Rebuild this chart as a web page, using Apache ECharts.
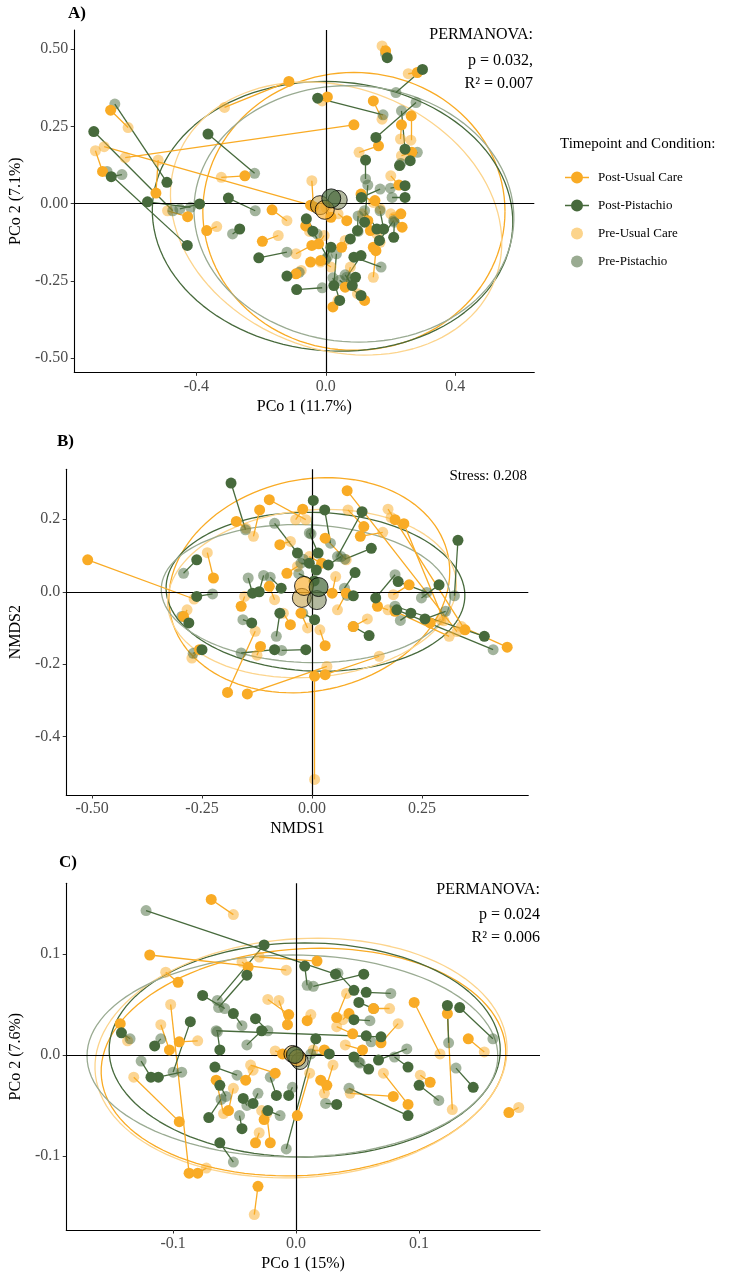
<!DOCTYPE html>
<html><head><meta charset="utf-8">
<script src="https://cdn.jsdelivr.net/npm/echarts@6/dist/echarts.min.js"></script>
<style>html,body{margin:0;padding:0;background:#fff}#c{width:731px;height:1274px}</style>
</head><body><div id="c"></div>
<script>
// ---------- DATA ----------
// pairs: [preX, preY, postX, postY]
const A_usual = [
[-0.611,0.246,-0.665,0.302],[-0.620,0.149,0.087,0.255],[-0.313,0.311,-0.114,0.395],[-0.712,0.171,-0.690,0.104],
[-0.518,0.141,-0.525,0.034],[-0.323,0.085,-0.250,0.090],[-0.685,0.184,-0.047,-0.005],[-0.337,-0.074,-0.368,-0.087],
[-0.489,-0.023,-0.427,-0.042],[-0.120,-0.055,-0.166,-0.020],[-0.147,-0.103,-0.196,-0.122],[-0.076,-0.216,-0.092,-0.227],
[-0.092,-0.162,-0.043,-0.135],[-0.016,-0.189,-0.047,-0.189],[-0.005,-0.103,-0.022,-0.130],[-0.043,0.074,-0.038,-0.010],
[0.174,0.273,0.147,0.332],[-0.011,0.332,0.005,0.345],[0.255,0.420,0.283,0.424],[0.174,0.510,0.185,0.494],
[0.231,0.209,0.234,0.255],[0.263,0.205,0.264,0.284],[0.234,0.155,0.266,0.166],[0.103,0.166,0.163,0.187],
[0.201,0.090,0.226,0.060],[0.147,0.004,0.109,0.031],[0.168,-0.017,0.152,0.010],[0.201,-0.033,0.232,-0.033],
[0.212,-0.044,0.236,-0.076],[0.114,-0.033,0.130,-0.055],[0.158,-0.098,0.138,-0.087],[0.168,-0.125,0.147,-0.141],
[0.147,-0.238,0.155,-0.152],[0.038,-0.033,0.065,-0.055],[0.038,-0.313,0.022,-0.334],[0.098,-0.291,0.120,-0.313],
[0.076,-0.205,0.060,-0.270],[0.060,-0.119,0.049,-0.141],[0.000,-0.012,0.016,-0.044],[0.016,-0.205,-0.016,-0.184],
[-0.050,-0.090,-0.062,-0.072]
];
const A_pist = [
[-0.652,0.322,-0.491,0.069],[-0.473,-0.023,-0.717,0.233],[-0.676,0.104,-0.428,-0.135],[-0.630,0.094,-0.663,0.087],
[-0.418,-0.012,-0.551,0.006],[-0.451,-0.017,-0.390,-0.001],[-0.220,0.098,-0.364,0.225],[-0.218,-0.023,-0.301,0.018],
[-0.288,-0.098,-0.266,-0.082],[-0.120,-0.157,-0.207,-0.175],[-0.082,-0.222,-0.120,-0.234],[-0.011,-0.272,-0.090,-0.278],
[-0.027,-0.098,-0.060,-0.049],[0.005,-0.173,-0.040,-0.089],[0.177,0.287,-0.025,0.341],[0.217,0.359,0.299,0.434],
[0.185,0.485,0.190,0.472],[0.279,0.327,0.155,0.214],[0.234,0.300,0.245,0.176],[0.123,0.080,0.123,0.141],
[0.168,0.047,0.110,0.020],[0.232,0.130,0.228,0.123],[0.200,0.050,0.245,0.058],[0.205,0.020,0.245,0.020],
[0.283,0.166,0.261,0.139],[0.120,-0.023,0.158,-0.082],[0.168,-0.023,0.179,-0.082],[0.100,-0.040,0.098,-0.087],
[0.210,-0.055,0.166,-0.119],[0.212,-0.060,0.210,-0.109],[0.100,-0.090,0.076,-0.114],[0.171,-0.205,0.087,-0.173],
[0.065,-0.238,0.109,-0.168],[0.075,-0.255,0.092,-0.238],[0.043,-0.248,0.109,-0.297],[0.060,-0.230,0.082,-0.265],
[0.033,-0.162,0.025,-0.265],[0.022,-0.240,0.043,-0.313],[0.000,-0.180,0.016,-0.141],[0.130,0.060,0.120,-0.060]
];
const B_usual = [
[-0.268,-0.020,-0.510,0.088],[0.330,-0.110,0.080,0.279],[-0.014,0.199,-0.097,0.254],[-0.133,0.153,-0.119,0.226],
[-0.150,0.175,-0.172,0.194],[-0.037,0.199,-0.021,0.228],[-0.049,0.139,-0.073,0.130],[0.082,0.226,0.118,0.180],
[0.161,0.164,0.110,0.153],[0.173,0.228,0.348,-0.105],[0.180,0.205,0.189,0.199],[0.340,-0.096,0.444,-0.153],
[0.300,-0.080,0.209,0.188],[0.173,-0.050,0.149,-0.040],[0.312,-0.123,0.189,-0.054],[0.185,-0.008,0.221,0.019],
[0.293,-0.077,0.269,-0.086],[0.126,-0.075,0.094,-0.096],[0.058,-0.050,0.078,-0.004],[0.018,-0.105,0.030,-0.149],
[0.006,-0.518,0.006,-0.233],[0.153,-0.178,0.030,-0.229],[-0.129,-0.109,-0.192,-0.278],[0.034,-0.206,-0.147,-0.282],
[-0.284,-0.050,-0.292,-0.068],[-0.273,-0.183,-0.256,-0.160],[-0.238,0.108,-0.224,0.038],[-0.125,-0.175,-0.117,-0.151],
[-0.153,-0.013,-0.161,-0.040],[-0.085,-0.022,-0.097,0.015],[-0.065,-0.059,-0.049,-0.091],[-0.010,-0.100,-0.025,-0.059],
[-0.033,0.070,-0.057,0.051],[0.054,0.042,0.046,-0.004],[0.078,0.088,0.030,0.148],[-0.006,0.097,0.022,0.079]
];
const B_pist = [
[-0.151,0.171,-0.184,0.300],[-0.002,0.160,0.003,0.252],[0.042,0.134,0.029,0.226],[0.058,0.097,0.114,0.221],
[0.075,0.090,0.135,0.120],[-0.085,0.189,-0.033,0.107],[-0.292,0.051,-0.262,0.088],[-0.226,-0.006,-0.262,-0.013],
[-0.296,-0.068,-0.280,-0.086],[-0.270,-0.170,-0.250,-0.160],[-0.145,0.038,-0.135,-0.004],[-0.157,-0.077,-0.137,-0.086],
[-0.161,-0.169,-0.085,-0.160],[-0.069,-0.162,-0.014,-0.160],[-0.081,-0.123,-0.073,-0.059],[-0.006,0.162,0.014,0.107],
[0.066,0.097,0.037,0.074],[0.074,0.010,0.098,0.053],[0.080,-0.010,0.094,-0.011],[0.094,-0.096,0.130,-0.121],
[0.189,0.047,0.145,-0.017],[0.261,-0.002,0.196,0.028],[0.249,-0.017,0.289,0.019],[0.324,-0.011,0.332,0.142],
[0.189,-0.040,0.392,-0.123],[0.412,-0.160,0.193,-0.050],[0.201,-0.079,0.225,-0.059],[0.304,-0.054,0.257,-0.075],
[-0.021,-0.059,0.006,-0.077],[-0.025,0.079,-0.006,0.079],[-0.030,0.050,0.005,0.030],[-0.110,0.045,-0.120,0.000],
[-0.095,0.040,-0.070,0.010],[-0.020,0.090,0.010,0.060]
];
const C_usual = [
[-0.051,0.139,-0.069,0.154],[-0.008,0.084,-0.119,0.099],[-0.044,0.092,-0.039,0.087],[-0.030,0.097,0.017,0.093],
[-0.106,0.082,-0.096,0.072],[-0.137,0.014,-0.143,0.031],[-0.110,0.030,-0.103,0.005],[-0.080,0.014,-0.095,0.013],
[-0.132,-0.022,-0.095,-0.066],[-0.102,0.050,-0.087,-0.117],[-0.073,-0.112,-0.080,-0.117],[-0.034,-0.158,-0.031,-0.130],
[-0.030,-0.077,-0.033,-0.087],[-0.024,-0.058,-0.021,-0.087],[-0.028,-0.055,-0.026,-0.064],[-0.059,-0.058,-0.065,-0.025],
[-0.051,-0.033,-0.055,-0.055],[-0.023,0.055,-0.006,0.040],[-0.014,0.054,-0.007,0.030],[-0.037,-0.010,-0.017,-0.018],
[-0.035,-0.015,-0.041,-0.025],[0.011,-0.018,0.001,-0.060],[0.012,0.040,0.009,0.034],[0.041,0.061,0.033,0.037],
[0.117,0.001,0.096,0.052],[0.127,-0.054,0.123,0.041],[0.153,0.003,0.140,0.016],[0.181,-0.052,0.173,-0.057],
[0.071,-0.018,0.091,-0.049],[0.044,-0.038,0.079,-0.041],[0.101,-0.020,0.109,-0.027],[0.083,0.031,0.069,0.012],
[0.040,0.010,0.054,0.005],[0.033,0.028,0.046,0.021],[0.014,0.005,0.023,0.005],[0.023,-0.038,0.020,-0.025],
[0.076,0.046,0.063,0.046],[0.038,0.035,0.043,0.041],[-0.017,0.004,-0.011,0.001],[0.030,-0.010,0.025,-0.030]
];
const C_pist = [
[-0.122,0.143,0.032,0.080],[-0.064,0.054,-0.026,0.109],[0.009,0.069,0.007,0.088],[-0.063,0.047,-0.040,0.079],
[-0.058,0.046,-0.076,0.059],[-0.044,0.029,-0.051,0.041],[-0.023,0.024,-0.033,0.036],[-0.040,0.010,-0.028,0.024],
[-0.100,-0.017,-0.086,0.033],[-0.110,0.016,-0.115,0.009],[-0.093,-0.017,-0.112,-0.022],[-0.126,-0.006,-0.118,-0.022],
[-0.135,0.016,-0.142,0.022],[-0.061,-0.044,-0.071,-0.062],[-0.064,0.023,-0.062,0.005],[-0.048,-0.020,-0.066,-0.012],
[-0.057,-0.041,-0.062,-0.030],[-0.040,-0.050,-0.043,-0.043],[-0.046,-0.060,-0.044,-0.073],[-0.031,-0.038,-0.035,-0.048],
[-0.013,-0.060,-0.023,-0.055],[-0.051,-0.106,-0.062,-0.087],[-0.021,-0.022,-0.016,-0.040],[-0.003,-0.032,-0.006,-0.040],
[-0.008,-0.093,0.016,0.016],[0.034,0.081,0.047,0.064],[0.077,0.061,0.057,0.062],[0.063,0.046,0.051,0.052],
[0.014,0.068,0.055,0.080],[0.060,0.034,0.047,0.035],[0.061,0.013,0.057,0.019],[0.012,0.001,0.027,0.001],
[0.051,-0.007,0.047,-0.002],[0.052,-0.008,0.059,-0.014],[0.090,0.006,0.067,-0.005],[0.080,-0.002,0.091,-0.012],
[0.043,-0.033,0.091,-0.060],[0.124,0.012,0.123,0.049],[0.160,0.016,0.133,0.047],[0.130,-0.013,0.144,-0.032],
[0.024,-0.048,0.033,-0.049],[-0.065,0.024,0.069,0.018],[0.116,-0.045,0.100,-0.030]
];
// ellipse params per group: [cx, cy, a, b, angleDeg]; order: PostUC, PostPist, PreUC, PrePist
const A_ellipses = [[0.087,-0.025,0.467,0.449,0],[0.021,-0.041,0.558,0.435,-5],[0.032,-0.048,0.53,0.42,-25],[0.087,-0.033,0.495,0.414,-5]];
const B_ellipses = [[-0.006,0.018,0.33,0.285,30],[0.008,0.0,0.34,0.219,-3],[0.0,-0.005,0.33,0.23,8],[-0.014,-0.005,0.329,0.19,-3]];
const C_ellipses = [[0.006,-0.007,0.165,0.112,6],[0.007,0.005,0.159,0.106,0],[0.004,-0.003,0.168,0.118,6],[-0.003,-0.001,0.167,0.100,0]];
// centroids: PostUC, PostPist, PreUC, PrePist
const A_centroids = [[-0.003,-0.020],[0.017,0.017],[-0.018,-0.005],[0.037,0.012]];
const B_centroids = [[-0.018,0.016],[0.015,0.013],[-0.023,-0.017],[0.011,-0.023]];
const C_centroids = [[0.001,-0.003],[-0.001,0.000],[-0.003,0.001],[0.003,-0.006]];
// ticks
const A_xTicks = [-0.4,0,0.4], A_xLabels = ['-0.4','0.0','0.4'];
const A_yTicks = [-0.5,-0.25,0,0.25,0.5], A_yLabels = ['-0.50','-0.25','0.00','0.25','0.50'];
const B_xTicks = [-0.5,-0.25,0,0.25], B_xLabels = ['-0.50','-0.25','0.00','0.25'];
const B_yTicks = [-0.4,-0.2,0,0.2], B_yLabels = ['-0.4','-0.2','0.0','0.2'];
const C_xTicks = [-0.1,0,0.1], C_xLabels = ['-0.1','0.0','0.1'];
const C_yTicks = [-0.1,0,0.1], C_yLabels = ['-0.1','0.0','0.1'];
const groupNames = ['Post-Usual Care','Post-Pistachio','Pre-Usual Care','Pre-Pistachio'];

// ---------- STYLE ----------
const FONT = 'Liberation Serif';
const ORANGE = '#F9AB25', GREEN = '#476A3C';
const ELL_COLORS = [ORANGE, GREEN, '#FCD48C', '#9AAB92'];
const CENT_COLORS = ['rgba(249,171,37,0.8)','rgba(71,106,60,0.9)','rgba(190,150,50,0.65)','rgba(110,120,70,0.65)'];

function ellipse(p){
  const [cx,cy,a,b,ang]=p, t=ang*Math.PI/180, pts=[];
  for(let i=0;i<=120;i++){const u=i/120*2*Math.PI;
    const x=a*Math.cos(u), y=b*Math.sin(u);
    pts.push([cx+x*Math.cos(t)-y*Math.sin(t), cy+x*Math.sin(t)+y*Math.cos(t)]);}
  return pts;
}
function fmt(ticks,labels){return v=>{const i=ticks.findIndex(t=>Math.abs(t-v)<1e-9);return i>=0?labels[i]:'';};}
function axis(gi,min,max,ticks,labels,name,gap,isY){
  return {type:'value',gridIndex:gi,min,max,name,nameLocation:'middle',nameGap:gap,
    nameTextStyle:{fontFamily:FONT,fontSize:16,color:'#000'},
    axisLine:{show:true,onZero:false,lineStyle:{color:'#000',width:1.1}},
    axisTick:{show:true,length:3.5,lineStyle:{color:'#333',width:1},customValues:ticks},
    axisLabel:{customValues:ticks,formatter:fmt(ticks,labels),fontFamily:FONT,fontSize:16,color:'#4D4D4D',margin:6},
    splitLine:{show:false}};
}
const series=[];
function panel(gi,usual,pist,ells,cents,csize){
  series.push({type:'line',xAxisIndex:gi,yAxisIndex:gi,data:[[0,0]],showSymbol:false,lineStyle:{width:0},silent:true,z:1,
    markLine:{silent:true,symbol:'none',animation:false,label:{show:false},lineStyle:{color:'#000',width:1.2,type:'solid'},
      data:[{xAxis:0},{yAxis:0}]}});
  ells.forEach((e,k)=>series.push({type:'line',xAxisIndex:gi,yAxisIndex:gi,data:ellipse(e),showSymbol:false,silent:true,
    lineStyle:{color:ELL_COLORS[k],width:1.3},z:2}));
  [[usual,ORANGE],[pist,GREEN]].forEach(([pairs,col])=>series.push({type:'lines',coordinateSystem:'cartesian2d',xAxisIndex:gi,yAxisIndex:gi,
    silent:true,z:3,lineStyle:{color:col,width:1.3,opacity:1},
    data:pairs.map(p=>({coords:[[p[0],p[1]],[p[2],p[3]]]}))}));
  series.push({type:'scatter',name:'Pre-Usual Care',xAxisIndex:gi,yAxisIndex:gi,symbolSize:11,z:4,
    itemStyle:{color:ORANGE,opacity:0.5},data:usual.map(p=>[p[0],p[1]])});
  series.push({type:'scatter',name:'Pre-Pistachio',xAxisIndex:gi,yAxisIndex:gi,symbolSize:11,z:4,
    itemStyle:{color:GREEN,opacity:0.5},data:pist.map(p=>[p[0],p[1]])});
  series.push({type:'scatter',name:'Post-Usual Care',xAxisIndex:gi,yAxisIndex:gi,symbolSize:11,z:5,
    itemStyle:{color:ORANGE,opacity:1},data:usual.map(p=>[p[2],p[3]])});
  series.push({type:'scatter',name:'Post-Pistachio',xAxisIndex:gi,yAxisIndex:gi,symbolSize:11,z:5,
    itemStyle:{color:GREEN,opacity:1},data:pist.map(p=>[p[2],p[3]])});
  [2,3,0,1].forEach(k=>series.push({type:'scatter',name:'centroid'+gi+k,xAxisIndex:gi,yAxisIndex:gi,symbolSize:csize,z:6,silent:true,
    itemStyle:{color:CENT_COLORS[k],borderColor:'#000',borderWidth:1},data:[cents[k]]}));
}
panel(0,A_usual,A_pist,A_ellipses,A_centroids,19);
panel(1,B_usual,B_pist,B_ellipses,B_centroids,19);
panel(2,C_usual,C_pist,C_ellipses,C_centroids,17);

const POST_ICON='path://M0,5.35h24v1.3h-24z M18,6a6,6 0 1,1 -12,0a6,6 0 1,1 12,0z';
const T=(x,y,text,align,size,bold)=>({type:'text',x,y,silent:true,style:{text,align,verticalAlign:'middle',
  font:(bold?'bold ':'')+size+'px "'+FONT+'"',fill:'#000'}});

const option={
  animation:false,
  grid:[{left:67.5,top:30,width:466.8,height:342.3},{left:58,top:469.3,width:470.3,height:325.7},{left:59.3,top:883.3,width:480.7,height:346.7}],
  xAxis:[axis(0,-0.7775,0.6446,A_xTicks,A_xLabels,'PCo 1 (11.7%)',26),axis(1,-0.5588,0.492,B_xTicks,B_xLabels,'NMDS1',26),axis(2,-0.1869,0.1983,C_xTicks,C_xLabels,'PCo 1 (15%)',26)],
  yAxis:[axis(0,-0.5453,0.5614,A_yTicks,A_yLabels,'PCo 2 (7.1%)',47),axis(1,-0.561,0.338,B_yTicks,B_yLabels,'NMDS2',41),axis(2,-0.1733,0.170,C_yTicks,C_yLabels,'PCo 2 (7.6%)',42)],
  legend:{orient:'vertical',left:560,top:166,itemWidth:24,itemHeight:12,itemGap:15,selectedMode:false,
    textStyle:{fontFamily:FONT,fontSize:13,color:'#000',lineHeight:12,padding:[0,0,0,4]},
    data:[{name:'Post-Usual Care',icon:POST_ICON,itemStyle:{color:ORANGE,opacity:1}},
          {name:'Post-Pistachio',icon:POST_ICON,itemStyle:{color:GREEN,opacity:1}},
          {name:'Pre-Usual Care',icon:'circle',itemStyle:{color:'#FCD48C',opacity:1}},
          {name:'Pre-Pistachio',icon:'circle',itemStyle:{color:'#9AAB92',opacity:1}}]},
  graphic:[
    T(68,14,'A)','left',17,true),T(57,442,'B)','left',17,true),T(59,863,'C)','left',17,true),
    T(533,35,'PERMANOVA:','right',16),T(533,61,'p = 0.032,','right',16),T(533,84,'R\u00B2 = 0.007','right',16),
    T(527,476,'Stress: 0.208','right',15),
    T(540,890,'PERMANOVA:','right',16),T(540,915,'p = 0.024','right',16),T(540,938,'R\u00B2 = 0.006','right',16),
    T(560,144,'Timepoint and Condition:','left',15)
  ],
  series
};
echarts.init(document.getElementById('c'),null,{renderer:'canvas'}).setOption(option);
</script></body></html>
